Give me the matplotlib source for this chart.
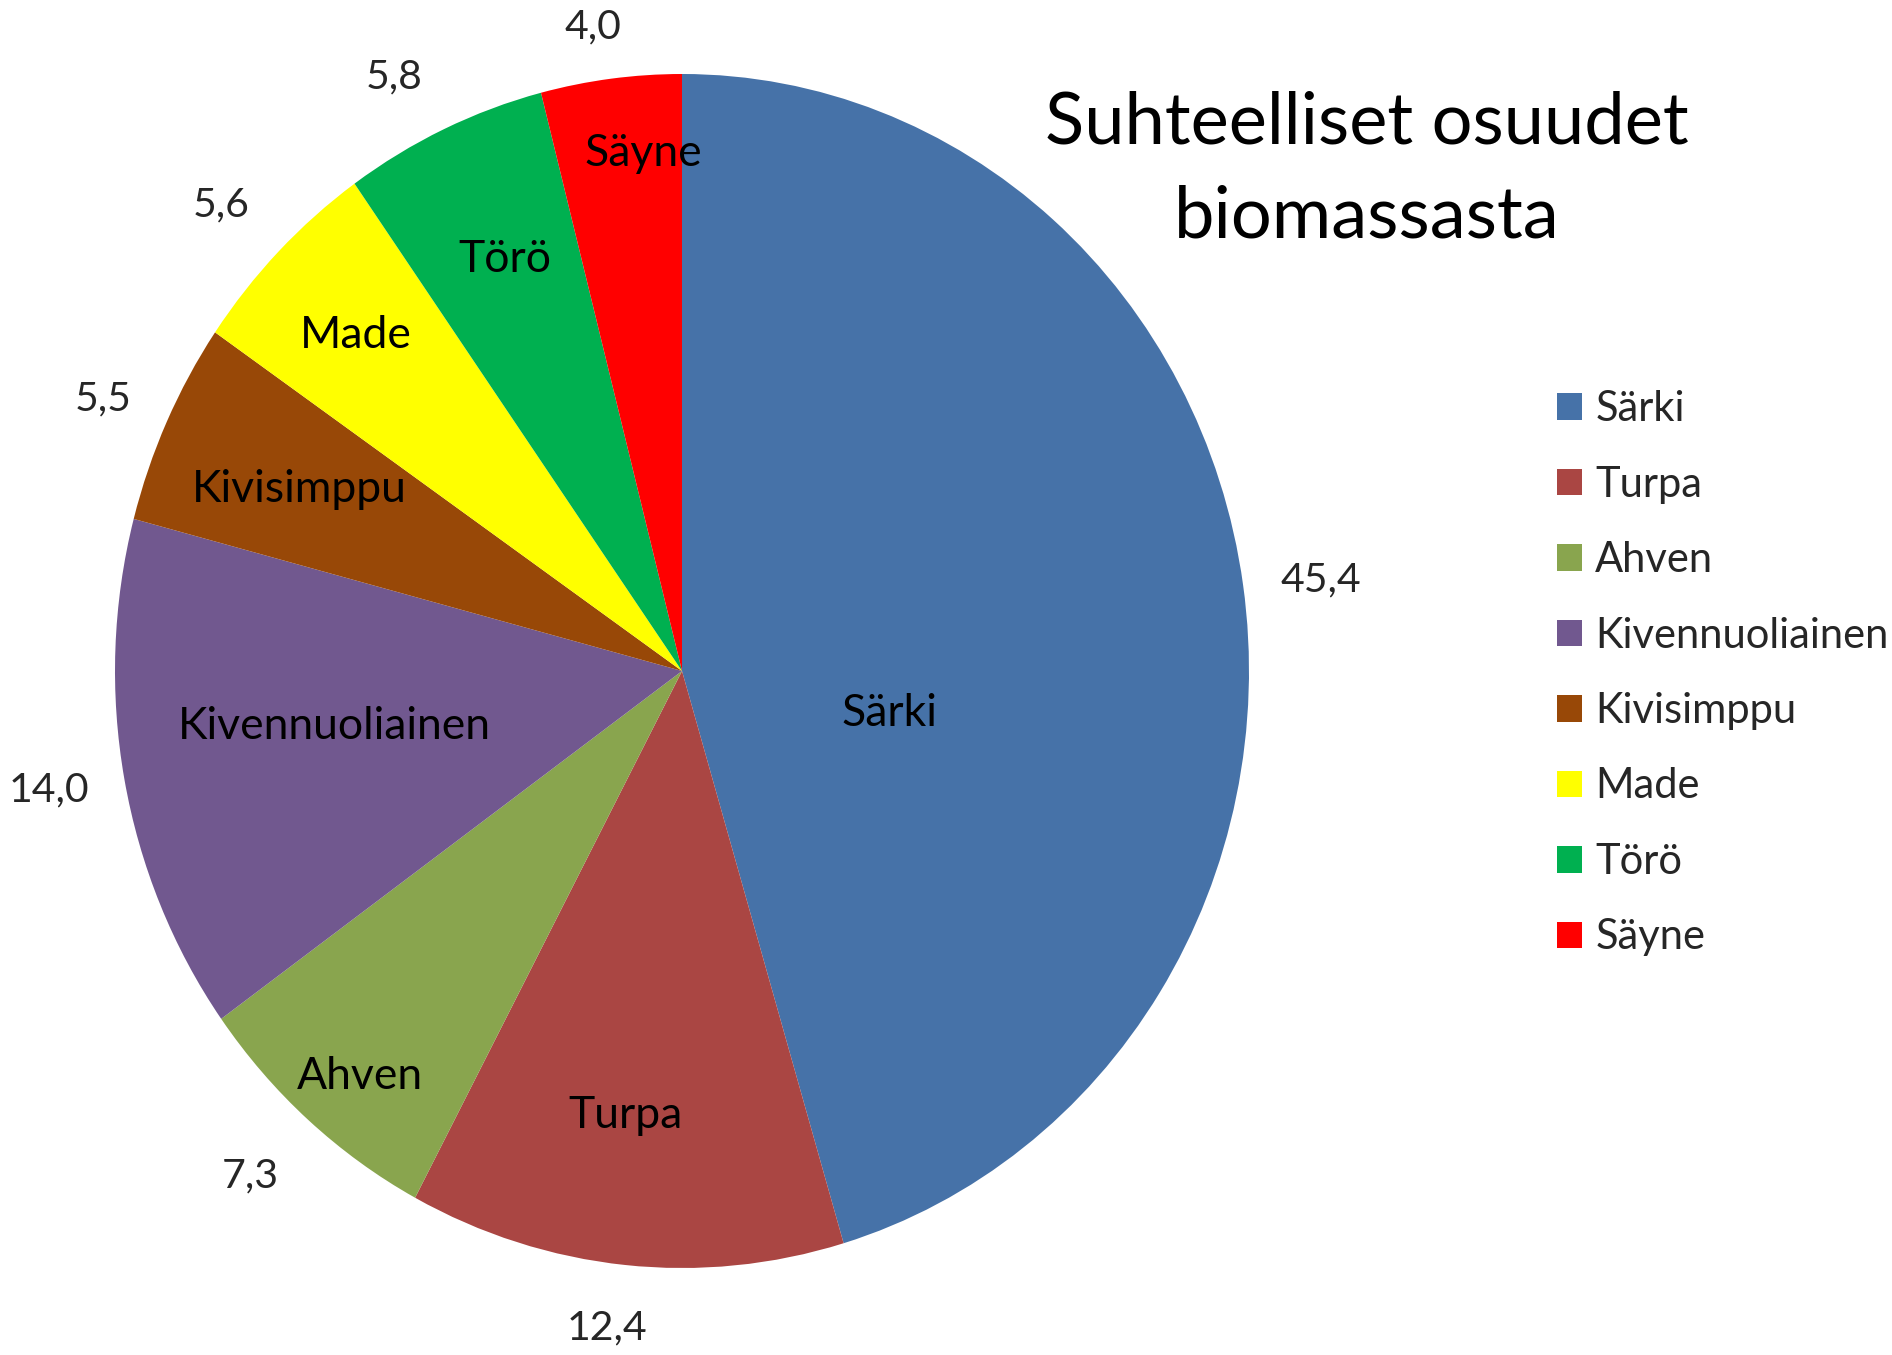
import numpy as np
import matplotlib
matplotlib.use("Agg")
import matplotlib.pyplot as plt
from matplotlib.patches import Patch
from matplotlib.transforms import offset_copy

plt.rcParams['font.family'] = ['Lato', 'DejaVu Sans']

# ---- data ----
categories = ["Särki", "Turpa", "Ahven", "Kivennuoliainen", "Kivisimppu", "Made", "Törö", "Säyne"]
values = [45.4, 12.4, 7.3, 14.0, 5.5, 5.6, 5.8, 4.0]
value_labels = ["45,4", "12,4", "7,3", "14,0", "5,5", "5,6", "5,8", "4,0"]
title_text = "Suhteelliset osuudet\nbiomassasta"

# ---- styles (label placement relative to each wedge) ----
colors = ["#4672A8", "#AA4643", "#89A54E", "#71588F", "#984807", "#FFFF00", "#00B050", "#FF0000"]
inner_r = [0.372, 0.744, 0.88, 0.619, 0.743, 0.809, 0.763, 0.876]
inner_dang = [-18.3, -1.9, 1.0, -2.4, 0.0, 0.0, -0.6, -2.7]
outer_r = [1.137, 1.108, 1.138, 1.135, 1.119, 1.127, 1.117, 1.090]
outer_dang = [-0.6, -1.1, -0.8, -0.3, 0.6, 0.8, 2.2, 1.1]

W, H = 1892, 1355
fig = plt.figure(figsize=(W / 100, H / 100), dpi=100)
fig.patch.set_facecolor("white")

cx, cy, rx, ry = 682, 671, 567, 597
ax = fig.add_axes([(cx - rx) / W, 1 - (cy + ry) / H, 2 * rx / W, 2 * ry / H])
wedges, _ = ax.pie(values, colors=colors, startangle=90, counterclock=False,
                   radius=1, wedgeprops=dict(linewidth=0))
ax.set_aspect('auto')
ax.set_xlim(-1, 1)
ax.set_ylim(-1, 1)
ax.axis('off')

tr_in = offset_copy(ax.transData, fig=fig, x=0, y=-4, units='dots')
for i, w in enumerate(wedges):
    mid = (w.theta1 + w.theta2) / 2.0
    a = np.deg2rad(mid + inner_dang[i])
    ax.text(inner_r[i] * np.cos(a), inner_r[i] * np.sin(a), categories[i],
            ha='center', va='center', fontsize=32, color='black',
            clip_on=False, transform=tr_in)
    b = np.deg2rad(mid + outer_dang[i])
    ax.text(outer_r[i] * np.cos(b), outer_r[i] * np.sin(b), value_labels[i],
            ha='center', va='center', fontsize=29.5, color='#262626', clip_on=False)

fig.text(1367 / W, 1 - 170 / H, title_text, ha='center', va='center',
         fontsize=52, color='black', linespacing=1.55)

handles = [Patch(facecolor=c, edgecolor='none') for c in colors]
fig.legend(handles, categories, loc='upper left',
           bbox_to_anchor=(1557 / W, 1 - 390 / H), frameon=False,
           fontsize=30, labelcolor='#262626',
           handlelength=0.6, handleheight=0.6, handletextpad=0.32,
           labelspacing=0.9, borderaxespad=0, borderpad=0)

fig.savefig("out.png", dpi=100, facecolor="white")
